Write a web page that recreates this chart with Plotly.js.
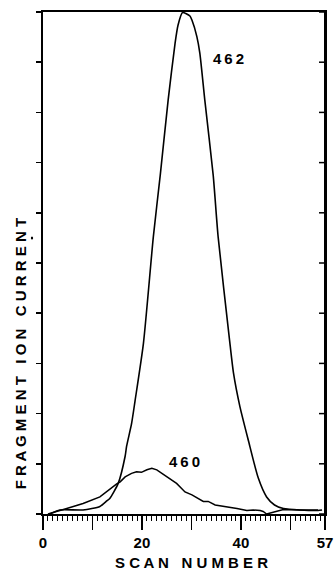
<!DOCTYPE html>
<html>
<head>
<meta charset="utf-8">
<script src="https://cdn.plot.ly/plotly-3.0.1.min.js"></script>
<style>html,body{margin:0;padding:0;background:#fff;overflow:hidden;}#chart{width:334px;height:571px;}</style>
</head>
<body>
<div id="chart"></div>
<script>
// Ion 462 trace (scan number, relative current)
const scan462 = [1.4, 3.4, 8.1, 11.5, 12.9, 13.5, 15.2, 16.6, 16.9, 17.9, 18.6, 20.3, 22.3, 23.7, 25.3, 26.7, 27.3, 28.2, 29.7, 30.1, 31.1, 31.7, 32.7, 34.4, 35.4, 37.7, 38.5, 39.8, 41.5, 43.5, 45.2, 46.8, 48.6, 51.9, 55.6, 56.4];
const val462  = [0.0, 0.08, 0.08, 0.15, 0.26, 0.31, 0.61, 1.15, 1.35, 1.80, 2.25, 3.40, 5.52, 6.75, 8.25, 9.38, 9.74, 9.99, 9.92, 9.84, 9.51, 9.18, 8.25, 6.75, 5.52, 3.47, 2.81, 2.14, 1.47, 0.72, 0.34, 0.18, 0.11, 0.08, 0.07, 0.08];
// Ion 460 trace
const scan460 = [1.0, 1.4, 4.8, 8.1, 11.5, 14.9, 15.6, 16.6, 17.9, 18.9, 19.9, 21.0, 22.0, 23.0, 25.0, 27.0, 28.7, 30.1, 32.4, 33.4, 34.8, 37.1, 39.2, 41.2, 42.5, 43.9, 44.5, 45.2, 48.6, 51.9, 55.6, 56.4];
const val460  = [0.0, 0.01, 0.11, 0.21, 0.34, 0.60, 0.64, 0.74, 0.81, 0.84, 0.83, 0.88, 0.91, 0.88, 0.74, 0.61, 0.44, 0.38, 0.25, 0.25, 0.18, 0.15, 0.11, 0.07, 0.08, 0.07, 0.05, 0.0, 0.09, 0.08, 0.08];
const xTickVals = [0, 10, 20, 30, 40, 50, 57];
const xTickText = ["0", "", "20", "", "40", "", "57"];
const yTickVals = [0, 1, 2, 3, 4, 5, 6, 7, 8, 9, 10];
const labels = [{text: "4\u20096\u20092", x: 37.4, y: 9.08}, {text: "4\u20096\u20090", x: 28.7, y: 1.04}];

const fnt = "Liberation Sans, Arial, sans-serif";
const traces = [
  {x: scan462, y: val462, type: 'scatter', mode: 'lines', line: {color: '#000', width: 1.6, shape: 'spline', smoothing: 0.6}, hoverinfo: 'skip'},
  {x: scan460, y: val460, type: 'scatter', mode: 'lines', line: {color: '#000', width: 1.5}, hoverinfo: 'skip'}
];
// right frame edge with inward-pointing ticks
const rightFrame = [{
  type: 'line', xref: 'paper', yref: 'paper', x0: 1, x1: 1, y0: -0.02, y1: 1,
  line: {color: '#000', width: 2}
}].concat(yTickVals.map(v => ({
  type: 'line', xref: 'paper', yref: 'y', x0: 1 - 6 / 282, x1: 1, y0: v, y1: v,
  line: {color: '#000', width: 1.5}
})));
const layout = {
  width: 334, height: 571,
  margin: {l: 43, r: 9, t: 12, b: 57},
  paper_bgcolor: '#fff', plot_bgcolor: '#fff',
  showlegend: false,
  xaxis: {
    range: [0, 57], showgrid: false, zeroline: false,
    showline: true, linecolor: '#000', linewidth: 2, mirror: true,
    tickmode: 'array', tickvals: xTickVals, ticktext: xTickText,
    ticks: 'outside', ticklen: 14, tickwidth: 1.5, tickcolor: '#000',
    minor: {dtick: 1, tick0: 0, ticks: 'outside', ticklen: 5, tickwidth: 1, tickcolor: '#000'},
    tickfont: {family: fnt, size: 15, color: '#000', weight: 'bold'}
  },
  yaxis: {
    range: [0, 10], showgrid: false, zeroline: false,
    showline: true, linecolor: '#000', linewidth: 2, mirror: true,
    tickmode: 'array', tickvals: yTickVals, ticks: 'outside', ticklen: 5, tickwidth: 1.5, tickcolor: '#000',
    showticklabels: false
  },
  annotations: labels.map(l => ({
    text: l.text, x: l.x, y: l.y, xref: 'x', yref: 'y', showarrow: false,
    font: {family: fnt, size: 15, color: '#000', weight: 'bold'}
  })).concat([{
    text: "F R A G M E N T   I O N   C U R R E N T", textangle: -90,
    xref: 'paper', yref: 'paper', x: -0.082, y: 0.32, xanchor: 'center', yanchor: 'middle',
    showarrow: false, font: {family: fnt, size: 15, color: '#000', weight: 'bold'}
  }, {
    text: "S C A N   N U M B E R",
    xref: 'paper', yref: 'paper', x: 0.525, y: -0.097, xanchor: 'center', yanchor: 'middle',
    showarrow: false, font: {family: fnt, size: 15, color: '#000', weight: 'bold'}
  }]),
  shapes: [{
    type: 'circle', xref: 'paper', yref: 'paper',
    x0: -0.043, x1: -0.035, y0: 0.547, y1: 0.553,
    fillcolor: '#000', line: {width: 0}
  }].concat(rightFrame)
};
Plotly.newPlot('chart', traces, layout, {staticPlot: true, displayModeBar: false});
</script>
</body>
</html>
